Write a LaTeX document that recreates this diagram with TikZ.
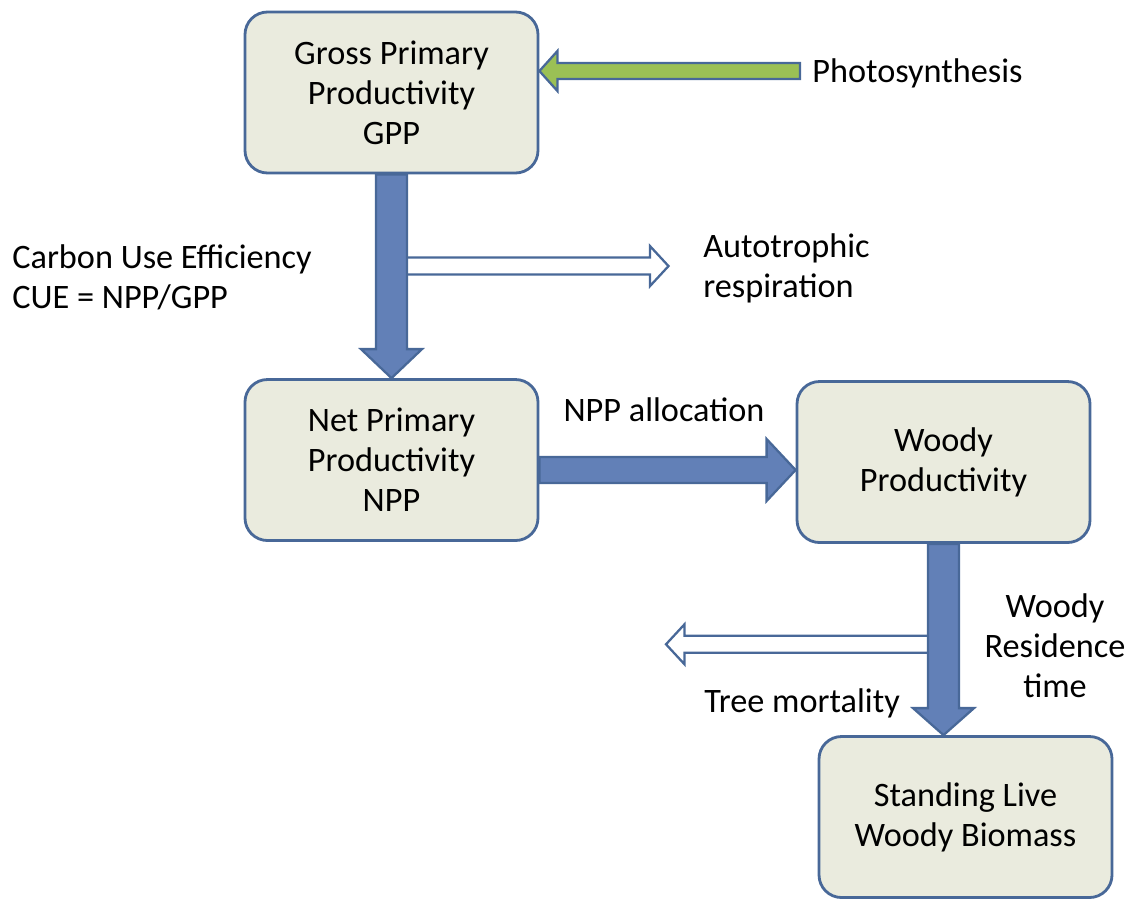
\documentclass[tikz,border=0pt]{standalone}
\usepackage{fontspec}
\setmainfont{Carlito}
\usepackage{tikz}
\usetikzlibrary{calc, positioning}
\definecolor{boxfill}{RGB}{234,235,222}
\definecolor{boxline}{RGB}{72,104,152}
\definecolor{flowblue}{RGB}{98,128,183}
\definecolor{leafgreen}{RGB}{155,192,85}
\tikzstyle{pool} = [rectangle, rounded corners=0.45cm, minimum width=5.86cm, minimum height=3.22cm, text centered, align=center, draw=boxline, line width=1.6pt, fill=boxfill, font=\fontsize{19.5}{22.8}\selectfont]
\tikzstyle{note} = [inner sep=0pt, font=\fontsize{19.5}{22.8}\selectfont]
\tikzstyle{flow} = [draw=boxline, line width=1.3pt, fill=flowblue, line join=miter]
\tikzstyle{loss} = [flow, fill=white]
\tikzstyle{light} = [flow, fill=leafgreen]
\tikzset{
  blockarrow/.style n args={3}{to path={
    ($(\tikztostart)!#1!90:(\tikztotarget)$)
    -- ($($(\tikztotarget)!#3!(\tikztostart)$)!#1!90:(\tikztotarget)$)
    -- ($($(\tikztotarget)!#3!(\tikztostart)$)!#2!90:(\tikztotarget)$)
    -- (\tikztotarget)
    -- ($($(\tikztotarget)!#3!(\tikztostart)$)!#2!-90:(\tikztotarget)$)
    -- ($($(\tikztotarget)!#3!(\tikztostart)$)!#1!-90:(\tikztotarget)$)
    -- ($(\tikztostart)!#1!-90:(\tikztotarget)$)
    -- cycle}}
}

\begin{document}
\begin{tikzpicture}[node distance=7.35cm]
\useasboundingbox (0,0) rectangle (22.7,-18);
\node (gpp) [pool] at (7.83,-1.85) {Gross Primary\\Productivity\\GPP};
\node (npp) [pool, below of=gpp] {Net Primary\\Productivity\\NPP};
\node (woody) [pool, right of=npp, xshift=3.69cm, yshift=-0.04cm] {Woody\\Productivity};
\node (stand) [pool, below of=woody, xshift=0.44cm, yshift=0.25cm] {Standing Live\\Woody Biomass};

\node (photo) [note, anchor=west] at (16.24,-1.46) {Photosynthesis};
\node (cue) [note, anchor=west, align=left] at (0.24,-5.55) {Carbon Use Efficiency\\CUE = NPP/GPP};
\node (auto) [note, anchor=west, align=left] at (14.06,-5.36) {Autotrophic\\respiration};
\node (alloc) [note] at (13.28,-8.2) {NPP allocation};
\node (resid) [note, align=center] at (21.1,-12.91) {Woody\\Residence\\time};
\node (dead) [note] at (16.04,-14.06) {Tree mortality};

% arrow ends
\coordinate (sun) at (16.0,-1.42);
\coordinate (gppin) at ([yshift=0.43cm]gpp.east);
\coordinate (resp) at ($(gpp.south)!0.45!(npp.north)$);
\coordinate (respout) at ($(resp)+(5.54,0)$);
\coordinate (nppout) at ([yshift=-0.2cm]npp.east);
\coordinate (woodyin) at (woody.west |- nppout);
\coordinate (standin) at (woody.south |- stand.north);
\coordinate (mort) at ($(woody.south)!0.525!(standin)$);
\coordinate (mortout) at ($(mort)+(-5.55,0)$);

\draw [light, blockarrow={0.16cm}{0.4cm}{0.36cm}] (sun) to (gppin);
\draw [loss, blockarrow={0.17cm}{0.4cm}{0.37cm}] (resp) to (respout);
\draw [loss, blockarrow={0.17cm}{0.4cm}{0.37cm}] (mort) to (mortout);
\draw [flow, blockarrow={0.31cm}{0.61cm}{0.58cm}] (gpp.south) to (npp.north);
\draw [flow, blockarrow={0.26cm}{0.62cm}{0.58cm}] (nppout) to (woodyin);
\draw [flow, blockarrow={0.31cm}{0.61cm}{0.54cm}] (woody.south) to (standin);
\end{tikzpicture}
\end{document}
